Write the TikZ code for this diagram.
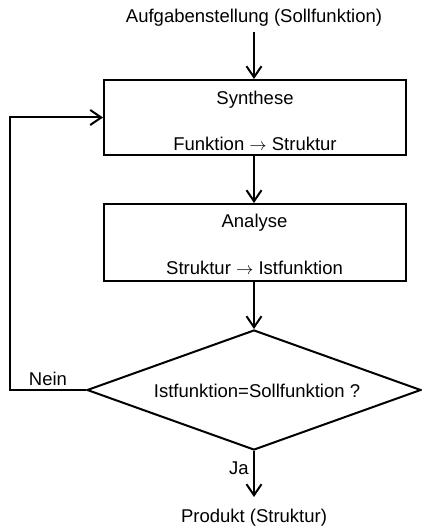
\documentclass[tikz,border=0pt]{standalone}
\usepackage{fontspec}
\setmainfont{Liberation Sans}
\usetikzlibrary{shapes.geometric,arrows.meta}
\tikzset{
  txt/.style={font=\fontsize{18.5}{22}\selectfont, inner sep=0pt},
  procbox/.style={draw, line width=2pt, minimum width=302pt, inner sep=0pt},
  decision/.style={draw, diamond, line width=2pt, minimum width=334pt, minimum height=120pt, inner sep=0pt, aspect=2.8},
  conn/.style={line width=2pt},
  arr/.style={conn, -{Straight Barb[length=11pt,width=15pt,line width=2pt]}}
}
\begin{document}
\begin{tikzpicture}[x=1pt,y=-1pt]
\useasboundingbox (0,0) rectangle (421,529);
% nodes
\node[txt, anchor=south, inner ysep=5pt] (task) at (254,32) {Aufgabenstellung (Sollfunktion)};
\node[procbox, minimum height=75pt] (syn) at (255,117.5) {};
\node[txt] (synA) at (255,100) {Synthese};
\node[txt] (synB) at (255,144) {Funktion $\rightarrow$ Struktur};
\node[procbox, minimum height=77pt] (ana) at (254.5,242.5) {};
\node[txt] (anaA) at (254.5,223) {Analyse};
\node[txt] (anaB) at (254.5,268) {Struktur $\rightarrow$ Istfunktion};
\node[decision] (dec) at (254,390) {};
\node[txt] (decT) at (257,391) {Istfunktion=Sollfunktion ?};
\node[txt, anchor=north, inner ysep=12pt] (prod) at (254,497) {Produkt (Struktur)};
\node[txt] (nein) at (48,379) {Nein};
\node[txt] (ja) at (239,468) {Ja};
\coordinate (fb) at (10,390);
% connectors
\draw[arr] (task.south) -- (syn.north -| task.south);
\draw[arr] (syn.south -| task.south) -- (ana.north -| task.south);
\draw[arr] (ana.south -| task.south) -- (dec.north);
\draw[arr] (dec.south) -- (prod.north);
\draw[arr] (dec.west) -- (fb) |- (syn.west);
\end{tikzpicture}
\end{document}
